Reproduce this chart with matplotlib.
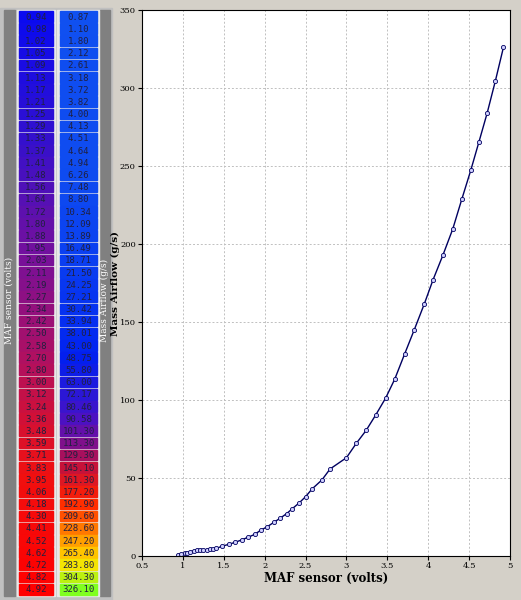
import matplotlib
matplotlib.use('Agg')
import matplotlib.pyplot as plt
from matplotlib.patches import Rectangle
from matplotlib.colors import LinearSegmentedColormap
import numpy as np

volts = [0.94, 0.98, 1.02, 1.05, 1.09, 1.13, 1.17, 1.21, 1.25, 1.29, 1.33, 1.37,
         1.41, 1.48, 1.56, 1.64, 1.72, 1.80, 1.88, 1.95, 2.03, 2.11, 2.19, 2.27,
         2.34, 2.42, 2.50, 2.58, 2.70, 2.80, 3.00, 3.12, 3.24, 3.36, 3.48, 3.59,
         3.71, 3.83, 3.95, 4.06, 4.18, 4.30, 4.41, 4.52, 4.62, 4.72, 4.82, 4.92]
airflow = [0.87, 1.10, 1.80, 2.12, 2.61, 3.18, 3.72, 3.82, 4.00, 4.13, 4.51, 4.64,
           4.94, 6.26, 7.48, 8.80, 10.34, 12.09, 13.89, 16.49, 18.71, 21.50, 24.25, 27.21,
           30.42, 33.94, 38.01, 43.00, 48.75, 55.80, 63.00, 72.17, 80.46, 90.58, 101.30, 113.30,
           129.30, 145.10, 161.30, 177.20, 192.90, 209.60, 228.60, 247.20, 265.40, 283.80, 304.30, 326.10]

fig = plt.figure(figsize=(5.21, 6), dpi=100)
fig.patch.set_facecolor('#d4d0c8')

# --- table panel (pixel coordinates) ---
tab = fig.add_axes([0, 0, 1, 1])
tab.set_xlim(0, 521)
tab.set_ylim(600, 0)
tab.axis('off')
tab.add_patch(Rectangle((0, 8), 112, 592, color='#c0c0c0'))
tab.add_patch(Rectangle((4, 10), 11, 586, color='#808080'))
tab.add_patch(Rectangle((100, 10), 10, 586, color='#808080'))
tab.add_patch(Rectangle((17, 10), 38, 586, color='#e8e8e8'))
tab.add_patch(Rectangle((57, 10), 42, 586, color='#e8e8e8'))
tab.text(9.5, 300, 'MAF sensor (volts)', rotation=90, ha='center', va='center',
         color='white', fontsize=6.5, family='serif')
tab.text(104.5, 300, 'Mass Airflow (g/s)', rotation=90, ha='center', va='center',
         color='white', fontsize=6.5, family='serif')

vcmap = LinearSegmentedColormap.from_list('v', ['#0a0af0', '#3010d0', '#7010a0', '#b01060', '#f01010', '#ff0000'])
fcmap = LinearSegmentedColormap.from_list('f', ['#1050f0', '#0020f0', '#5010c0', '#c01040', '#ff2000', '#ff8000', '#ffe000', '#80ff20'])
n = len(volts)
rh = 585 / n
fmax = max(airflow)
for i, (v, f) in enumerate(zip(volts, airflow)):
    y = 11 + i * rh
    tab.add_patch(Rectangle((19, y), 34, rh - 1.5, color=vcmap(i / (n - 1))))
    tab.add_patch(Rectangle((60, y), 37, rh - 1.5, color=fcmap(f / fmax)))
    tab.text(36, y + rh / 2, f'{v:.2f}', ha='center', va='center', fontsize=6.5,
             family='monospace', color='#202040')
    tab.text(78.5, y + rh / 2, f'{f:.2f}', ha='center', va='center', fontsize=6.5,
             family='monospace', color='#202040')

# --- chart ---
ax = fig.add_axes([142 / 521, 1 - 556 / 600, 368 / 521, 546 / 600])
ax.set_facecolor('white')
ax.plot(volts, airflow, '-o', color='#000060', linewidth=1, markersize=3,
        markerfacecolor='#d0d0ff', markeredgecolor='#000060', markeredgewidth=0.6)
ax.set_xlim(0.5, 5)
ax.set_ylim(0, 350)
ax.set_xticks(np.arange(0.5, 5.01, 0.5))
ax.set_xticklabels(['0.5', '1', '1.5', '2', '2.5', '3', '3.5', '4', '4.5', '5'])
ax.set_yticks(np.arange(0, 351, 50))
ax.grid(True, linestyle=(0, (2, 2)), color='#c0c0c0', linewidth=0.7)
ax.tick_params(labelsize=6, pad=1.5, length=3)
for lbl in ax.get_xticklabels() + ax.get_yticklabels():
    lbl.set_family('serif')
ax.set_xlabel('MAF sensor (volts)', family='serif', fontweight='bold', fontsize=8.5, labelpad=1)
ax.set_ylabel('Mass Airflow (g/s)', family='serif', fontweight='bold', fontsize=7.5)
ax.yaxis.set_label_coords(-0.06, 0.5)

fig.savefig('out.png', dpi=100, facecolor=fig.get_facecolor())
